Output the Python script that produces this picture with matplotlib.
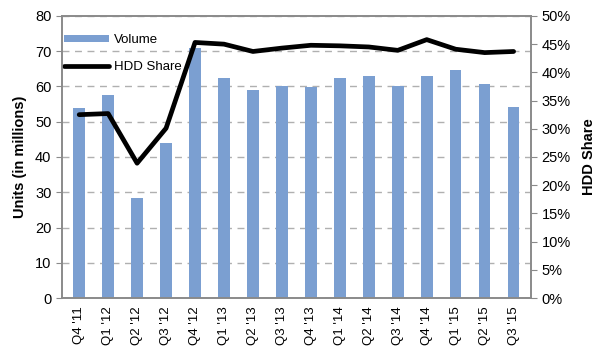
import matplotlib.pyplot as plt
import numpy as np
from matplotlib.ticker import FuncFormatter

plt.rcParams['font.family'] = ['Liberation Sans', 'DejaVu Sans']

# 분기별 데이터
quarters = ["Q4 '11", "Q1 '12", "Q2 '12", "Q3 '12", "Q4 '12", "Q1 '13", "Q2 '13", "Q3 '13",
            "Q4 '13", "Q1 '14", "Q2 '14", "Q3 '14", "Q4 '14", "Q1 '15", "Q2 '15", "Q3 '15"]
volume = [53.8, 57.7, 28.5, 44.1, 71.0, 62.4, 59.1, 60.1,
          59.8, 62.4, 62.9, 60.2, 62.9, 64.6, 60.8, 54.3]
hdd_share = [32.5, 32.7, 23.9, 30.1, 45.3, 45.0, 43.7, 44.3,
             44.8, 44.7, 44.5, 43.9, 45.8, 44.1, 43.5, 43.7]

fig = plt.figure(figsize=(6, 3.54), dpi=100)
ax = fig.add_axes([0.103, 0.158, 0.782, 0.797])
ax2 = ax.twinx()

x = np.arange(len(quarters))
edge = '#8a8a8a'

ax.set_axisbelow(True)
ax.yaxis.grid(True, linestyle=(0, (5, 4)), color='#b0b0b0', linewidth=1)
bars = ax.bar(x, volume, width=0.4, color='#7b9fd1', label='Volume', zorder=2)
line, = ax2.plot(x, [v / 100 for v in hdd_share], color='black', linewidth=3.4,
                 solid_capstyle='round', label='HDD Share', zorder=3)

ax.set_xlim(-0.6, len(quarters) - 0.4)
ax.set_ylim(0, 80)
ax.set_yticks(range(0, 81, 10))
ax2.set_ylim(0, 0.5)
ax2.set_yticks(np.arange(0, 0.51, 0.05))
ax2.yaxis.set_major_formatter(FuncFormatter(lambda v, p: f'{v*100:.0f}%'))

ax.set_xticks(x)
ax.set_xticklabels(quarters, rotation=90, fontsize=9.5)
ax.tick_params(axis='x', length=0, pad=6)
ax.tick_params(axis='y', labelsize=10.5, length=4, color=edge)
ax2.tick_params(axis='y', labelsize=10.5, length=4, color=edge)

for a in (ax, ax2):
    for s in a.spines.values():
        s.set_color(edge)
        s.set_linewidth(1.2)

ax.set_ylabel('Units (in millions)', fontsize=10.5, fontweight='bold', labelpad=6)
ax2.set_ylabel('HDD Share', fontsize=10.5, fontweight='bold', labelpad=8)

ax.legend([bars, line], ['Volume', 'HDD Share'], loc='upper left', frameon=False,
          fontsize=9.5, bbox_to_anchor=(-0.012, 0.963), handlelength=3.4,
          handleheight=0.45, labelspacing=1.1, handletextpad=0.35,
          borderaxespad=0.2)

fig.savefig('out.png', dpi=100)
